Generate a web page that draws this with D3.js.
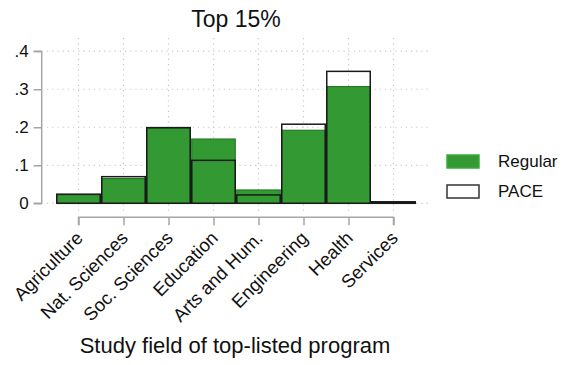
<!DOCTYPE html>
<html><head><meta charset="utf-8">
<script src="https://cdn.jsdelivr.net/npm/d3@7"></script>
<style>html,body{margin:0;padding:0;background:#fff;}svg{display:block;font-family:"Liberation Sans",Arial,sans-serif;}</style>
</head><body>
<script>
const categories = ["Agriculture","Nat. Sciences","Soc. Sciences","Education","Arts and Hum.","Engineering","Health","Services"];
const regular = [0.022, 0.065, 0.197, 0.169, 0.035, 0.192, 0.307, 0.003];
const pace = [0.024, 0.070, 0.199, 0.113, 0.022, 0.208, 0.347, 0.004];
const yTicks = [0, 0.1, 0.2, 0.3, 0.4];
const yTickLabels = ["0", ".1", ".2", ".3", ".4"];
const seriesNames = ["Regular", "PACE"];

const W = 574, H = 365;
const svg = d3.select("body").append("svg").attr("width", W).attr("height", H);
const green = "#339933", greenEdge = "#267a26", axisCol = "#a6a6a6", gridCol = "#c8c8c8";
const FONT = "Liberation Sans, Arial, sans-serif";

const x = d3.scaleBand().domain(categories).range([56, 416]).padding(0);
const y = d3.scaleLinear().domain([0, 0.4]).range([203.3, 51.2]);

// gridlines
svg.append("g").selectAll("line").data(yTicks).join("line")
  .attr("x1", 47).attr("x2", 428).attr("y1", d => y(d)).attr("y2", d => y(d))
  .attr("stroke", gridCol).attr("stroke-width", 1.2).attr("stroke-dasharray", "1.2,4");
svg.append("g").selectAll("line").data(categories).join("line")
  .attr("x1", d => x(d) + x.bandwidth()/2).attr("x2", d => x(d) + x.bandwidth()/2)
  .attr("y1", 38).attr("y2", 211)
  .attr("stroke", gridCol).attr("stroke-width", 1.2).attr("stroke-dasharray", "1.2,4");

// bars
svg.append("g").selectAll("rect").data(categories).join("rect")
  .attr("x", d => x(d) + 0.75).attr("width", x.bandwidth() - 1.5)
  .attr("y", (d,i) => y(regular[i])).attr("height", (d,i) => y(0) - y(regular[i]))
  .attr("fill", green).attr("stroke", greenEdge).attr("stroke-width", 1.2);
svg.append("g").selectAll("rect").data(categories).join("rect")
  .attr("x", d => x(d) + 0.75).attr("width", x.bandwidth() - 1.5)
  .attr("y", (d,i) => y(pace[i])).attr("height", (d,i) => y(0) - y(pace[i]))
  .attr("fill", "none").attr("stroke", "#1a1a1a").attr("stroke-width", 1.5);

// y axis
const yAxis = svg.append("g").attr("transform", "translate(41.7,0)")
  .call(d3.axisLeft(y).tickValues(yTicks).tickFormat((d,i) => yTickLabels[i]).tickSize(8).tickPadding(5));
yAxis.select(".domain").attr("stroke", axisCol).attr("stroke-width", 1.5).attr("d", `M-8,${y(0.4)}H0V${y(0)}H-8`);
yAxis.selectAll(".tick line").attr("stroke", axisCol).attr("stroke-width", 1.5);
yAxis.selectAll(".tick text").attr("font-size", 17).attr("fill", "#111").attr("font-family", FONT);

// x axis
const xc = d3.scalePoint().domain(categories).range([x(categories[0]) + x.bandwidth()/2, x(categories[7]) + x.bandwidth()/2]);
const xAxis = svg.append("g").attr("transform", "translate(0,217.3)")
  .call(d3.axisBottom(xc).tickSize(8).tickPadding(4));
xAxis.select(".domain").attr("stroke", axisCol).attr("stroke-width", 1.5).attr("d", `M${xc.range()[0]},8V0H${xc.range()[1]}V8`);
xAxis.selectAll(".tick line").attr("stroke", axisCol).attr("stroke-width", 1.5);
xAxis.selectAll(".tick text").attr("font-size", 18.5).attr("fill", "#111").attr("font-family", FONT)
  .attr("text-anchor", "end").attr("dy", null)
  .attr("transform", "translate(5,22) rotate(-45)").attr("y", 0).attr("x", 0);

// title
svg.append("text").attr("x", 236).attr("y", 27).attr("text-anchor", "middle")
  .attr("font-size", 23).attr("fill", "#111").text("Top 15%");
svg.append("text").attr("x", 235).attr("y", 352.5).attr("text-anchor", "middle")
  .attr("font-size", 22).attr("fill", "#111").text("Study field of top-listed program");

// legend
const lg = svg.append("g");
seriesNames.forEach((s, i) => {
  lg.append("rect").attr("x", 447).attr("y", 155 + i*30).attr("width", 32).attr("height", 13)
    .attr("fill", i === 0 ? green : "#fff").attr("stroke", i === 0 ? "#3aaa3a" : "#333").attr("stroke-width", 1.5);
  lg.append("text").attr("x", 498).attr("y", 161.5 + i*30).attr("dy", "0.35em")
    .attr("font-size", 17).attr("fill", "#111").text(s);
});
</script>
</body></html>
